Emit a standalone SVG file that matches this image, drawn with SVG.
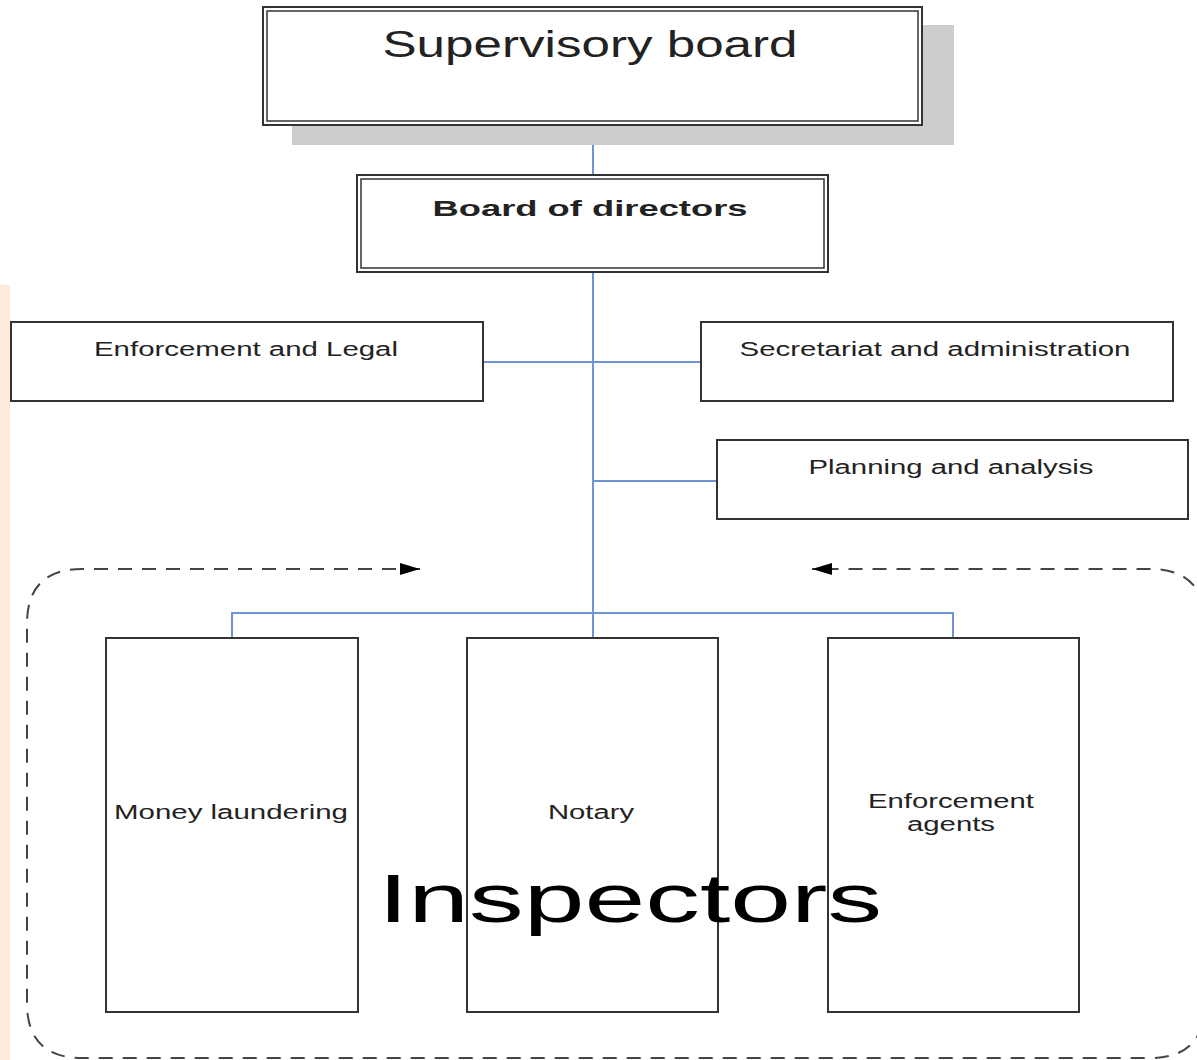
<svg xmlns="http://www.w3.org/2000/svg" width="1197" height="1060" viewBox="0 0 1197 1060">
<style>
.box{fill:#fff;stroke:#333;stroke-width:2}
.dbl{fill:none;stroke:#333;stroke-width:1.5}
.t{font-family:"Liberation Sans",Arial,sans-serif;fill:#222;text-anchor:middle}
.c{stroke:#6f94d4;stroke-width:2;fill:none}
.dash{fill:none;stroke:#444;stroke-width:2;stroke-dasharray:14 10}
</style>
<defs>
<marker id="ah" markerWidth="22" markerHeight="14" refX="20" refY="7" orient="auto-start-reverse" markerUnits="userSpaceOnUse">
<path d="M0,1 L20,7 L0,13 Z" fill="#000"/>
</marker>
</defs>
<rect x="0" y="285" width="10" height="775" fill="#fdeadb"/>
<g id="frame">
<path class="dash" d="M420,569 L82,569 Q27,569 27,624 L27,1003 Q27,1058 82,1058 L1150,1058 Q1205,1058 1205,1003 L1205,624 Q1205,569 1150,569 L812,569" marker-start="url(#ah)" marker-end="url(#ah)"/>
</g>
<g id="connectors">
<line class="c" x1="593" y1="125" x2="593" y2="175"/>
<line class="c" x1="593" y1="272" x2="593" y2="638"/>
<line class="c" x1="483" y1="362" x2="701" y2="362"/>
<line class="c" x1="593" y1="481" x2="717" y2="481"/>
<path class="c" d="M232,638 L232,613 L953,613 L953,638"/>
</g>
<g id="supervisory">
<rect x="292" y="25" width="662" height="120" fill="#cccccc"/>
<rect class="box" x="263" y="7" width="659" height="118"/>
<rect class="dbl" x="267" y="11" width="651" height="110"/>
<text class="t" x="590" y="57" font-size="37" textLength="415" lengthAdjust="spacingAndGlyphs">Supervisory board</text>
</g>
<g id="directors">
<rect class="box" x="357" y="175" width="471" height="97"/>
<rect class="dbl" x="361" y="179" width="463" height="89"/>
<text class="t" x="590" y="216" font-size="22" font-weight="bold" textLength="315" lengthAdjust="spacingAndGlyphs">Board of directors</text>
</g>
<g id="enforcement-legal">
<rect class="box" x="11" y="322" width="472" height="79"/>
<text class="t" x="246" y="356" font-size="20" textLength="304" lengthAdjust="spacingAndGlyphs">Enforcement and Legal</text>
</g>
<g id="secretariat">
<rect class="box" x="701" y="322" width="472" height="79"/>
<text class="t" x="935" y="356" font-size="20" textLength="391" lengthAdjust="spacingAndGlyphs">Secretariat and administration</text>
</g>
<g id="planning">
<rect class="box" x="717" y="440" width="471" height="79"/>
<text class="t" x="951" y="474" font-size="20" textLength="285" lengthAdjust="spacingAndGlyphs">Planning and analysis</text>
</g>
<g id="money">
<rect class="box" x="106" y="638" width="252" height="374"/>
<text class="t" x="231" y="819" font-size="20" textLength="234" lengthAdjust="spacingAndGlyphs">Money laundering</text>
</g>
<g id="notary">
<rect class="box" x="467" y="638" width="251" height="374"/>
<text class="t" x="591" y="819" font-size="20" textLength="86" lengthAdjust="spacingAndGlyphs">Notary</text>
</g>
<g id="agents">
<rect class="box" x="828" y="638" width="251" height="374"/>
<text class="t" x="951" y="808" font-size="20" textLength="166" lengthAdjust="spacingAndGlyphs">Enforcement</text>
<text class="t" x="951" y="831" font-size="20" textLength="88" lengthAdjust="spacingAndGlyphs">agents</text>
</g>
<g id="inspectors">
<text x="630" y="922" font-size="68" font-family="Liberation Sans,Arial,sans-serif" fill="#000" text-anchor="middle" textLength="504" lengthAdjust="spacingAndGlyphs">Inspectors</text>
</g>
</svg>
